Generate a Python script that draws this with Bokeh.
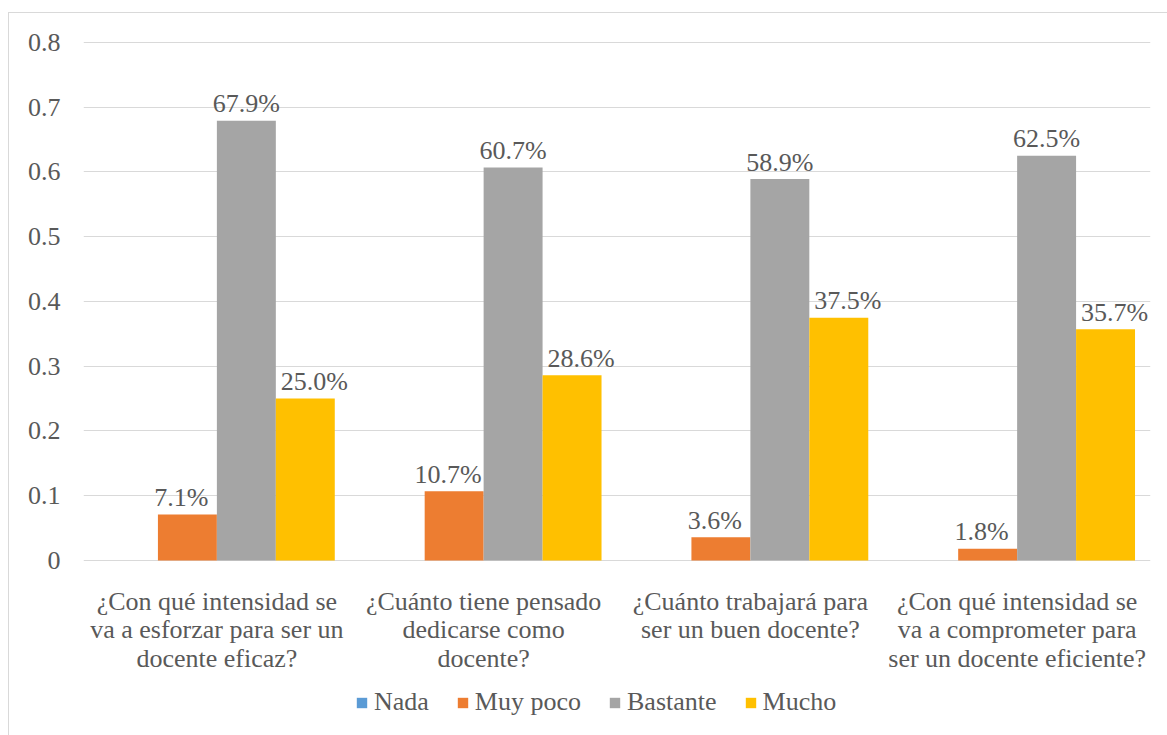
from bokeh.plotting import figure
from bokeh.models import Range1d, FactorRange, Legend, LegendItem, FixedTicker, ColumnDataSource
from bokeh.transform import dodge
from bokeh.core.properties import value
from bokeh.embed import file_html
from bokeh.resources import INLINE

# Survey questions (x categories) and answer levels (series)
categories = [
    "¿Con qué intensidad se\nva a esforzar para ser un\ndocente eficaz?",
    "¿Cuánto tiene pensado\ndedicarse como\ndocente?",
    "¿Cuánto trabajará para\nser un buen docente?",
    "¿Con qué intensidad se\nva a comprometer para\nser un docente eficiente?",
]
series_names = ["Nada", "Muy poco", "Bastante", "Mucho"]
nada = [0.0, 0.0, 0.0, 0.0]
muy_poco = [0.071, 0.107, 0.036, 0.018]
bastante = [0.679, 0.607, 0.589, 0.625]
mucho = [0.250, 0.286, 0.375, 0.357]
y_ticks = [0, 0.1, 0.2, 0.3, 0.4, 0.5, 0.6, 0.7, 0.8]

colors = ["#5B9BD5", "#ED7D31", "#A5A5A5", "#FFC000"]
label_nudge = [0, -6, 0, 9]  # px, keeps value labels clear of neighbouring bars
FONT = "'Liberation Serif'"
TEXT = "#595959"
GRID = "#D9D9D9"
FS = "26px"

# The frame reaches down to the bottom of the canvas so that the question
# texts and the legend can sit below the zero line inside it.
p = figure(
    frame_width=1067, frame_height=695,
    x_range=FactorRange(factors=categories, range_padding=0),
    y_range=Range1d(-0.2718, 0.8015),
    output_backend="svg", toolbar_location=None,
    min_border_left=74, min_border_right=18, min_border_top=28, min_border_bottom=0,
)
p.margin = (12, 0, 0, 8)
p.styles = {"border-left": f"1px solid {GRID}", "border-top": f"1px solid {GRID}"}
p.outline_line_color = None
p.background_fill_color = "white"
p.border_fill_color = "white"

p.xaxis.visible = False
p.xgrid.visible = False

# value axis
p.yaxis.ticker = FixedTicker(ticks=y_ticks)
p.yaxis.major_label_overrides = {0: "0"}
p.yaxis.axis_line_color = None
p.yaxis.major_tick_line_color = None
p.yaxis.minor_tick_line_color = None
p.yaxis.major_tick_out = 0
p.yaxis.major_label_standoff = 23
p.yaxis.major_label_text_font = FONT
p.yaxis.major_label_text_font_size = FS
p.yaxis.major_label_text_color = TEXT
p.ygrid.ticker = FixedTicker(ticks=y_ticks)
p.ygrid.grid_line_color = GRID
p.ygrid.grid_line_width = 1

bar_w = 0.221
all_series = [nada, muy_poco, bastante, mucho]
items = []
for j, (name, vals, col) in enumerate(zip(series_names, all_series, colors)):
    off = (j - 1.5) * bar_w
    src = ColumnDataSource(dict(cat=categories, top=vals))
    r = p.vbar(x=dodge("cat", off, range=p.x_range), top="top", width=bar_w, bottom=0,
               source=src, fill_color=col, line_color=None)
    items.append(LegendItem(label=name, renderers=[r]))
    # value labels above non-empty bars
    lc = [c for c, v in zip(categories, vals) if v > 0]
    lv = [v for v in vals if v > 0]
    lt = [f"{v * 100:.1f}%" for v in lv]
    tsrc = ColumnDataSource(dict(cat=lc, y=lv, t=lt))
    p.text(x=dodge("cat", off, range=p.x_range), y="y", text="t", source=tsrc,
           text_align="center", text_baseline="alphabetic",
           x_offset=label_nudge[j], y_offset=-17,
           text_font=value(FONT), text_font_size=FS, text_color=TEXT)

# question texts under each group, one glyph row per line
for k in range(3):
    cats = [c for c in categories if len(c.split("\n")) > k]
    lines = [c.split("\n")[k] for c in cats]
    csrc = ColumnDataSource(dict(cat=cats, y=[0] * len(cats), t=lines))
    p.text(x="cat", y="y", text="t", source=csrc, text_align="center",
           text_baseline="alphabetic", y_offset=41 + k * 28.5,
           text_font=value(FONT), text_font_size=FS, text_color=TEXT)

legend = Legend(items=items, orientation="horizontal", location=(272, 19),
                glyph_width=13, glyph_height=13, label_standoff=6, spacing=27,
                padding=0, margin=0, label_height=30,
                label_text_font=FONT, label_text_font_size=FS,
                label_text_color=TEXT, border_line_color=None,
                background_fill_alpha=0)
p.add_layout(legend, "center")

open("out.html", "w").write(file_html(p, INLINE))
